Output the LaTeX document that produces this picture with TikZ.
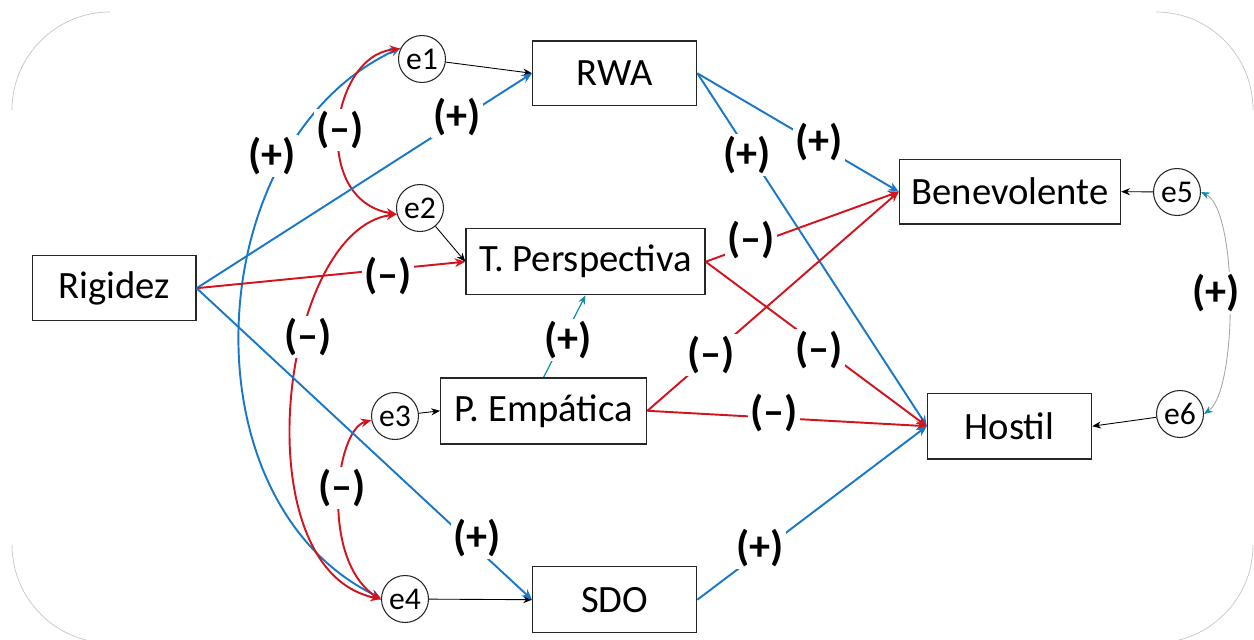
\documentclass[tikz,border=0pt]{standalone}
\usepackage{fontspec}
\setmainfont{Carlito}
\usetikzlibrary{arrows.meta}
\definecolor{pblue}{RGB}{25,120,200}
\definecolor{pred}{RGB}{210,20,30}
\definecolor{pteal}{RGB}{20,140,170}
\begin{document}
\begin{tikzpicture}[x=0.02cm,y=-0.02cm,
  box/.style={draw=black!85, line width=0.8pt, inner sep=0pt, fill=white, font=\fontsize{22}{26}\selectfont},
  err/.style={circle, draw=black!85, line width=0.6pt, minimum size=0.94cm, inner sep=0pt, fill=white, font=\fontsize{18}{20}\selectfont},
  lbl/.style={fill=white, inner sep=1.5pt, font=\bfseries\fontsize{24}{28}\selectfont},
  posarrow/.style={pblue, line width=1.1pt, -{Stealth[length=6pt,width=5pt]}},
  negarrow/.style={pred, line width=1.1pt, -{Stealth[length=6pt,width=5pt]}},
  poscov/.style={pblue, line width=1.1pt, {Stealth[length=6pt,width=5pt]}-{Stealth[length=6pt,width=5pt]}},
  negcov/.style={pred, line width=1.1pt, {Stealth[length=6pt,width=5pt]}-{Stealth[length=6pt,width=5pt]}},
  errarrow/.style={black, line width=0.5pt, -{Stealth[length=5pt,width=4pt]}},
  corner/.style={gray!45, line width=0.4pt}
]
\useasboundingbox (0,0) rectangle (1254,639);

% faint rounded frame corners
\draw[corner] (12,110) .. controls (12,56) and (56,12) .. (110,12);
\draw[corner] (1156,12) .. controls (1210,12) and (1253,56) .. (1253,110);
\draw[corner] (12,545) .. controls (12,599) and (56,643) .. (110,643);
\draw[corner] (1253,545) .. controls (1253,599) and (1209,643) .. (1155,643);

% main variables
\node[box, minimum width=3.27cm, minimum height=1.30cm] (rig) at (114.2,288.2) {Rigidez};
\node[box, minimum width=3.28cm, minimum height=1.30cm] (rwa) at (614.7,73.3) {RWA};
\node[box, minimum width=4.78cm, minimum height=1.32cm] (tp) at (585.5,261.7) {T. Perspectiva};
\node[box, minimum width=4.12cm, minimum height=1.32cm] (pe) at (543.7,410.8) {P. Empática};
\node[box, minimum width=3.28cm, minimum height=1.32cm] (sdo) at (614.7,599.7) {SDO};
\node[box, minimum width=4.42cm, minimum height=1.30cm] (ben) at (1010,191.7) {Benevolente};
\node[box, minimum width=3.28cm, minimum height=1.31cm] (hos) at (1009.5,426.2) {Hostil};

% error terms
\node[err] (e1) at (422,59) {e1};
\node[err] (e2) at (420,208) {e2};
\node[err] (e3) at (395,416) {e3};
\node[err] (e4) at (405,599) {e4};
\node[err] (e5) at (1177,192) {e5};
\node[err] (e6) at (1180,414) {e6};

% error arrows
\draw[errarrow] (e1) -- (rwa.west);
\draw[errarrow] (e2) -- (tp.west);
\draw[errarrow] (e3) -- (pe.west);
\draw[errarrow] (e4) -- (sdo.west);
\draw[errarrow] (e5) -- (ben.east);
\draw[errarrow] (e6) -- (hos.east);

% covariances
\draw[poscov] (e1.152) .. controls (200,140) and (180,500) .. (e4.178);
\draw[negcov] (e1.155) .. controls (330,55) and (310,200) .. (e2.195);
\draw[negcov] (e2.195) .. controls (280,230) and (240,570) .. (e4.180);
\draw[negcov] (e3.190) .. controls (335,430) and (320,560) .. (e4.182);
\draw[gray!70, line width=0.5pt, {Stealth[length=5pt,width=4pt,color=pteal]}-{Stealth[length=5pt,width=4pt,color=pteal]}]
  (e5.east) .. controls (1238,210) and (1238,390) .. (e6.east);

% structural paths
\draw[posarrow] (rig.east) -- (rwa.west);
\draw[negarrow] (rig.east) -- (tp.west);
\draw[posarrow] (rig.east) -- (sdo.west);
\draw[posarrow] (rwa.east) -- (ben.west);
\draw[posarrow] (rwa.east) -- (hos.west);
\draw[negarrow] (tp.east) -- (ben.west);
\draw[negarrow] (tp.east) -- (hos.west);
\draw[negarrow] (pe.east) -- (ben.west);
\draw[negarrow] (pe.east) -- (hos.west);
\draw[posarrow] (sdo.east) -- (hos.west);
\draw[pteal, line width=0.7pt, -{Stealth[length=5pt,width=4pt]}] (pe.north) -- (tp.south);

% labels
\node[lbl] (l1) at (272,156) {(+)};
\node[lbl] (l2) at (340,130) {(–)};
\node[lbl] (l3) at (457,117) {(+)};
\node[lbl] (l4) at (388,276) {(–)};
\node[lbl, inner xsep=4pt] (l5) at (308,337) {(–)};
\node[lbl] (l6) at (342,488) {(–)};
\node[lbl] (l7) at (477,538) {(+)};
\node[lbl] (l8) at (568,340) {(+)};
\node[lbl] (l9) at (747,155) {(+)};
\node[lbl] (l10) at (819,142) {(+)};
\node[lbl] (l11) at (751,240) {(–)};
\node[lbl] (l12) at (711,355) {(–)};
\node[lbl] (l13) at (819,350) {(–)};
\node[lbl] (l14) at (774,413) {(–)};
\node[lbl] (l15) at (760,548) {(+)};
\node[lbl] (l16) at (1216,293) {(+)};
\end{tikzpicture}
\end{document}
